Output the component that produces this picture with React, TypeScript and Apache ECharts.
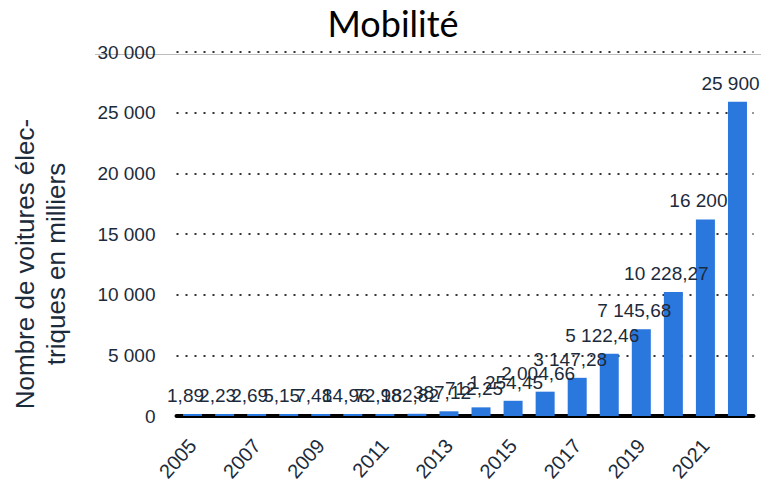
import React, { useEffect, useRef } from "react";
import * as echarts from "echarts";

const years = ["2005","2006","2007","2008","2009","2010","2011","2012","2013","2014","2015","2016","2017","2018","2019","2020","2021","2022"];
const values = [1.89, 2.23, 2.69, 5.15, 7.48, 14.96, 72.98, 182.82, 387.12, 712.25, 1254.45, 2004.66, 3147.28, 5122.46, 7145.68, 10228.27, 16200, 25900];
const yTicks = { min: 0, max: 30000, interval: 5000 };

const TEXT = "#1c2b3b";

function fmt(v: number): string {
  const isInt = Math.abs(v - Math.round(v)) < 1e-9;
  const s = isInt ? String(Math.round(v)) : v.toFixed(2);
  const [ip, dp] = s.split(".");
  const ipf = ip.replace(/\B(?=(\d{3})+(?!\d))/g, " ");
  return dp ? ipf + "," + dp : ipf;
}

export default function App() {
  const ref = useRef<HTMLDivElement>(null);
  useEffect(() => {
    document.body.style.margin = "0";
    const chart = echarts.init(ref.current!, null, { renderer: "svg" });
    chart.setOption({
      animation: false,
      backgroundColor: "#ffffff",
      title: {
        text: "Mobilité",
        left: 388,
        textAlign: "center",
        top: 0,
        textStyle: { fontFamily: "Lato", fontSize: 36, fontWeight: "normal", color: "#000" },
      },
      grid: { left: 176.5, right: 7.5, top: 52, bottom: 70, containLabel: false },
      graphic: [
        {
          type: "line",
          shape: { x1: 95, y1: 54.5, x2: 761, y2: 54.5 },
          style: { stroke: "#bdbdbd", lineWidth: 1 },
          z: 0,
        },
        {
          type: "text",
          x: 40,
          y: 264,
          rotation: Math.PI / 2,
          style: {
            text: "Nombre de voitures élec-\ntriques en milliers",
            fontFamily: "Liberation Sans",
            fontSize: 26,
            lineHeight: 31,
            fill: TEXT,
            align: "center",
            verticalAlign: "middle",
          },
        },
      ],
      xAxis: {
        type: "category",
        data: years,
        axisLine: { show: true, lineStyle: { color: "#000", width: 4 } },
        axisTick: { show: false },
        axisLabel: {
          interval: 1,
          rotate: 48,
          margin: 26,
          fontFamily: "Liberation Sans",
          fontSize: 20,
          color: TEXT,
        },
      },
      yAxis: {
        type: "value",
        min: yTicks.min,
        max: yTicks.max,
        interval: yTicks.interval,
        axisLine: { show: false },
        axisTick: { show: false },
        axisLabel: {
          margin: 21,
          fontFamily: "Liberation Sans",
          fontSize: 19,
          color: TEXT,
          formatter: (v: number) => fmt(v),
        },
        splitLine: {
          show: true,
          lineStyle: { color: "#333", width: 2, type: [2, 7] },
        },
      },
      series: [
        {
          type: "bar",
          data: values,
          barWidth: 19,
          barMinHeight: 2,
          itemStyle: { color: "#2a77de" },
          z: 3,
          label: {
            show: true,
            position: "top",
            distance: 9,
            offset: [-7, 0],
            fontFamily: "Liberation Sans",
            fontSize: 19,
            color: TEXT,
            formatter: (p: any) => fmt(p.value),
          },
        },
      ],
    });
    return () => chart.dispose();
  }, []);
  return <div ref={ref} style={{ width: 761, height: 486 }} />;
}
